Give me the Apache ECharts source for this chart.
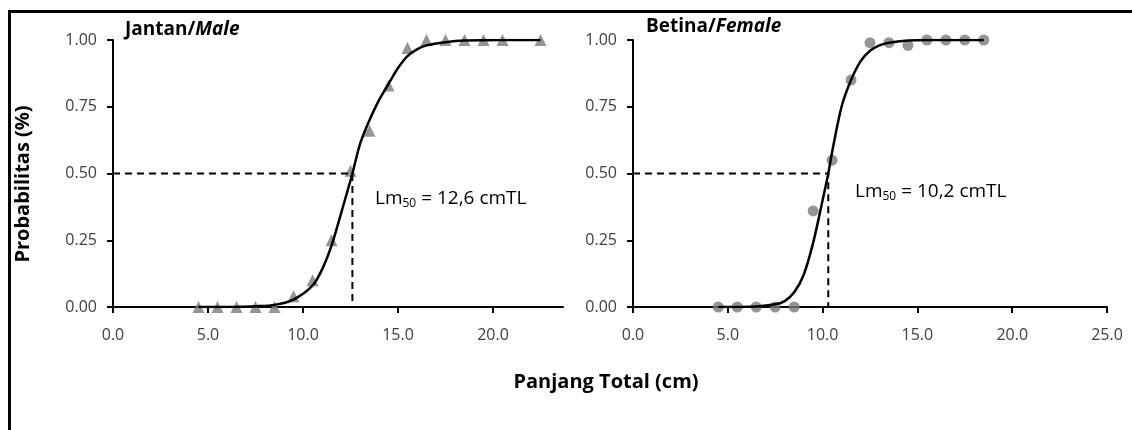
<!DOCTYPE html>
<html>
<head>
<meta charset="utf-8">
<title>Lm50 Jantan / Betina</title>
<script src="https://cdn.jsdelivr.net/npm/echarts@6/dist/echarts.min.js"></script>
<style>
    html, body { margin: 0; padding: 0; background: #fff; }
    #chart { width: 1132px; height: 430px; }
</style>
</head>
<body>
<div id="chart"></div>
<script>
    // tick values on the axes
    var xTicksMale = [0, 5, 10, 15, 20];
    var xTicksFemale = [0, 5, 10, 15, 20, 25];
    var yTicks = [0, 0.25, 0.5, 0.75, 1];

    // Jantan / Male : observed proportion mature per length class
    var maleLength = [4.5, 5.5, 6.5, 7.5, 8.5, 9.5, 10.5, 11.5, 12.5, 13.5, 14.5, 15.5, 16.5, 17.5, 18.5, 19.5, 20.5, 22.5];
    var maleProb = [0, 0, 0, 0, 0, 0.04, 0.10, 0.25, 0.51, 0.66, 0.83, 0.97, 1, 1, 1, 1, 1, 1];
    // fitted logistic curve
    var maleCurveX = [4.5, 6.5, 7.5, 8.5, 9.5, 10.5, 11, 11.5, 12, 12.6, 13, 13.5, 14, 14.5, 15, 15.5, 16, 16.5, 17.5, 18.5, 20.5, 22.5];
    var maleCurveY = [0, 0.001, 0.003, 0.008, 0.028, 0.08, 0.14, 0.23, 0.35, 0.5, 0.61, 0.7, 0.775, 0.835, 0.895, 0.94, 0.965, 0.98, 0.992, 0.998, 1, 1];
    var maleLm50 = 12.6;

    // Betina / Female
    var femaleLength = [4.5, 5.5, 6.5, 7.5, 8.5, 9.5, 10.5, 11.5, 12.5, 13.5, 14.5, 15.5, 16.5, 17.5, 18.5];
    var femaleProb = [0, 0, 0, 0, 0, 0.36, 0.55, 0.85, 0.99, 0.99, 0.98, 1, 1, 1, 1];
    var femaleCurveX = [4.5, 6.5, 7.5, 8, 8.5, 9, 9.5, 10, 10.3, 10.5, 11, 11.5, 12, 12.5, 13, 13.5, 14.5, 15.5, 18.5];
    var femaleCurveY = [0, 0.002, 0.01, 0.022, 0.055, 0.12, 0.24, 0.4, 0.5, 0.58, 0.75, 0.85, 0.92, 0.96, 0.98, 0.99, 0.998, 1, 1];
    var femaleLm50 = 10.3;

    var FONT = '"Open Sans", Lato, sans-serif';
    var MARKER = '#7a7a7a';

    function zip(xs, ys) {
        var out = [];
        for (var i = 0; i < xs.length; i++) {
            out.push([xs[i], ys[i]]);
        }
        return out;
    }

    function xAxisOpt(idx, max, ticks) {
        return {
            type: 'value', gridIndex: idx, min: 0, max: max, interval: 5,
            splitLine: { show: false },
            axisLine: { lineStyle: { color: '#000', width: 2 } },
            axisTick: { length: 6, lineStyle: { color: '#000', width: 2 }, customValues: ticks },
            axisLabel: {
                customValues: ticks, margin: 20, color: '#404040',
                fontFamily: FONT, fontSize: 16,
                formatter: function (v) { return v.toFixed(1); }
            }
        };
    }

    function yAxisOpt(idx) {
        return {
            type: 'value', gridIndex: idx, min: 0, max: 1, interval: 0.25,
            splitLine: { show: false },
            axisLine: { show: true, lineStyle: { color: '#000', width: 2 } },
            axisTick: { show: true, length: 6, lineStyle: { color: '#000', width: 2 }, customValues: yTicks },
            axisLabel: {
                customValues: yTicks, margin: 16, color: '#404040', fontFamily: FONT, fontSize: 16,
                formatter: function (v) { return v.toFixed(2); }
            }
        };
    }

    function guide(lm) {
        return [[0, 0.5], [lm, 0.5], [lm, 0]];
    }

    var titleRich = {
        b: { fontFamily: FONT, fontSize: 19, fontWeight: 'bold', fill: '#000' },
        i: { fontFamily: FONT, fontSize: 19, fontWeight: 'bold', fontStyle: 'italic', fill: '#000' }
    };
    var lmRich = {
        a: { fontFamily: FONT, fontSize: 19, fill: '#000' },
        s: { fontFamily: FONT, fontSize: 12, fill: '#000', padding: [10, 0, 0, 0] }
    };

    var chart = echarts.init(document.getElementById('chart'), null, { renderer: 'canvas' });

    var option = {
        backgroundColor: '#fff',
        animation: false,
        grid: [
            { left: 113, top: 40, width: 450, height: 267 },
            { left: 633, top: 40, width: 474, height: 267 }
        ],
        xAxis: [
            xAxisOpt(0, 450 / 19, xTicksMale),
            xAxisOpt(1, 25, xTicksFemale)
        ],
        yAxis: [yAxisOpt(0), yAxisOpt(1)],
        series: [
            {
                type: 'line', xAxisIndex: 0, yAxisIndex: 0, data: guide(maleLm50),
                symbol: 'none', lineStyle: { color: '#000', width: 2, type: [7, 5] }
            },
            {
                type: 'line', xAxisIndex: 1, yAxisIndex: 1, data: guide(femaleLm50),
                symbol: 'none', lineStyle: { color: '#000', width: 2, type: [7, 5] }
            },
            {
                type: 'scatter', xAxisIndex: 0, yAxisIndex: 0, data: zip(maleLength, maleProb),
                symbol: 'triangle', symbolSize: 12, itemStyle: { color: MARKER }
            },
            {
                type: 'scatter', xAxisIndex: 1, yAxisIndex: 1, data: zip(femaleLength, femaleProb),
                symbol: 'circle', symbolSize: 11, itemStyle: { color: MARKER }
            },
            {
                type: 'line', xAxisIndex: 0, yAxisIndex: 0, data: zip(maleCurveX, maleCurveY),
                symbol: 'none', smooth: 0.3, z: 5,
                lineStyle: { color: '#000', width: 2.5 }
            },
            {
                type: 'line', xAxisIndex: 1, yAxisIndex: 1, data: zip(femaleCurveX, femaleCurveY),
                symbol: 'none', smooth: 0.3, z: 5,
                lineStyle: { color: '#000', width: 2.5 }
            }
        ],
        graphic: [
            {
                type: 'rect', silent: true, z: 100,
                shape: { x: 9.5, y: 11.5, width: 1300, height: 600 },
                style: { fill: 'none', stroke: '#000', lineWidth: 3 }
            },
            {
                type: 'text', left: 125, top: 20,
                style: { text: '{b|Jantan/}{i|Male}', rich: titleRich }
            },
            {
                type: 'text', left: 646, top: 17,
                style: { text: '{b|Betina/}{i|Female}', rich: titleRich }
            },
            {
                type: 'text', left: 375, top: 189,
                style: { text: '{a|Lm}{s|50}{a| = 12,6 cmTL}', rich: lmRich }
            },
            {
                type: 'text', left: 855, top: 182,
                style: { text: '{a|Lm}{s|50}{a| = 10,2 cmTL}', rich: lmRich }
            },
            {
                type: 'text', x: 23, y: 184, rotation: Math.PI / 2,
                style: {
                    text: 'Probabilitas (%)', align: 'center', verticalAlign: 'middle',
                    fontFamily: FONT, fontSize: 20, fontWeight: 'bold', fill: '#000'
                }
            },
            {
                type: 'text', x: 606, y: 382,
                style: {
                    text: 'Panjang Total (cm)', align: 'center', verticalAlign: 'middle',
                    fontFamily: FONT, fontSize: 20, fontWeight: 'bold', fill: '#000'
                }
            }
        ]
    };

    chart.setOption(option);
</script>
</body>
</html>
